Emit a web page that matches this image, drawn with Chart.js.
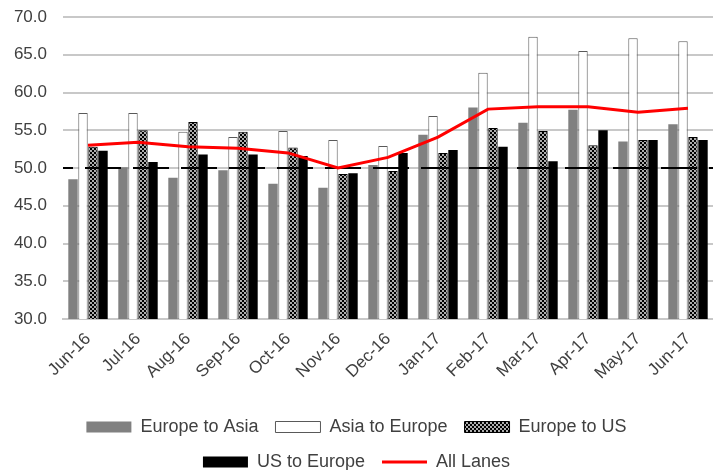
<!DOCTYPE html>
<html>
<head>
<meta charset="utf-8">
<script src="https://cdn.jsdelivr.net/npm/chart.js@4.4.0/dist/chart.umd.min.js"></script>
<style>
  html, body { margin: 0; padding: 0; background: #fff; }
  #wrap { width: 713px; height: 470px; }
</style>
</head>
<body>
<div id="wrap"><canvas id="laneChart"></canvas></div>
<script>
// ── DATA ──
const months = ['Jun-16', 'Jul-16', 'Aug-16', 'Sep-16', 'Oct-16', 'Nov-16', 'Dec-16',
                'Jan-17', 'Feb-17', 'Mar-17', 'Apr-17', 'May-17', 'Jun-17'];
const europeToAsia = [48.5, 50.1, 48.7, 49.7, 47.9, 47.4, 50.4, 54.4, 58.0, 56.0, 57.7, 53.5, 55.8];
const asiaToEurope = [57.3, 57.3, 54.8, 54.1, 54.9, 53.7, 52.9, 56.9, 62.6, 67.4, 65.5, 67.2, 66.8];
const europeToUS   = [52.8, 55.0, 56.1, 54.8, 52.7, 49.2, 49.6, 52.0, 55.3, 54.9, 53.0, 53.7, 54.1];
const usToEurope   = [52.3, 50.8, 51.8, 51.8, 51.6, 49.3, 52.0, 52.4, 52.8, 50.9, 55.0, 53.7, 53.7];
const allLanes     = [53.0, 53.4, 52.8, 52.6, 52.0, 50.0, 51.4, 54.1, 57.8, 58.1, 58.1, 57.4, 57.9];
const threshold = 50;
const yTicks = { min: 30, max: 70, step: 5 };

// ── dotted fill for Europe to US ──
function makeDots() {
  const c = document.createElement('canvas');
  c.width = 4; c.height = 4;
  const g = c.getContext('2d');
  g.fillStyle = '#000';
  g.fillRect(0, 0, 4, 4);
  g.fillStyle = '#fff';
  g.beginPath(); g.arc(1, 1, 0.9, 0, Math.PI * 2); g.fill();
  g.beginPath(); g.arc(3, 3, 0.9, 0, Math.PI * 2); g.fill();
  return g.createPattern(c, 'repeat');
}
const dots = makeDots();

// dashed 50 line + legend line marker
const extras = {
  id: 'extras',
  afterDatasetDraw(chart, args) {
    if (args.index !== 0) return;
    const { ctx, chartArea } = chart;
    const y = chart.scales.y.getPixelForValue(threshold);
    ctx.save();
    ctx.strokeStyle = '#000';
    ctx.lineWidth = 2;
    ctx.setLineDash([36, 12]);
    ctx.lineDashOffset = -22;
    ctx.beginPath();
    ctx.moveTo(chartArea.left, y);
    ctx.lineTo(chartArea.right, y);
    ctx.stroke();
    ctx.restore();
  },
  afterDraw(chart) {
    const lg = chart.legend;
    const box = lg.legendHitBoxes[4];
    if (!box) return;
    const ctx = chart.ctx;
    const bw = lg.options.labels.boxWidth;
    const y = box.top + box.height / 2;
    ctx.save();
    ctx.strokeStyle = '#ff0000';
    ctx.lineWidth = 3;
    ctx.beginPath();
    ctx.moveTo(box.left, y);
    ctx.lineTo(box.left + bw, y);
    ctx.stroke();
    ctx.restore();
  }
};

const font = { family: 'Liberation Sans, Arial, sans-serif', size: 18 };

new Chart(document.getElementById('laneChart'), {
  type: 'bar',
  data: {
    labels: months,
    datasets: [
      { label: 'Europe to Asia', data: europeToAsia, backgroundColor: '#808080', borderWidth: 0, order: 1 },
      { label: 'Asia to Europe', data: asiaToEurope, backgroundColor: '#ffffff', borderColor: '#595959', borderWidth: 1, order: 1 },
      { label: 'Europe to US', data: europeToUS, backgroundColor: dots, borderColor: '#000', borderWidth: 1, order: 1 },
      { label: 'US to Europe', data: usToEurope, backgroundColor: '#000000', borderWidth: 0, order: 1 },
      {
        label: 'All Lanes', data: allLanes, type: 'line',
        borderColor: '#ff0000', backgroundColor: 'rgba(0,0,0,0)',
        borderWidth: 3, pointRadius: 0, tension: 0, order: 0
      }
    ]
  },
  options: {
    responsive: true,
    maintainAspectRatio: false,
    animation: false,
    datasets: { bar: { categoryPercentage: 0.8, barPercentage: 0.94 } },
    layout: { padding: { top: 17, left: 0, right: 0, bottom: -11 } },
    scales: {
      x: {
        grid: { display: false },
        border: { color: '#c8c8c8', width: 2 },
        ticks: { color: '#404040', font: { ...font, size: 17 }, minRotation: 45, maxRotation: 45, padding: 2 },
        afterFit: s => { s.height = 82; }
      },
      y: {
        min: yTicks.min, max: yTicks.max,
        grid: { color: '#c8c8c8', lineWidth: 2, drawTicks: false },
        border: { display: false },
        ticks: {
          stepSize: yTicks.step, color: '#404040', font: { ...font, size: 17 }, padding: 16,
          callback: v => v.toFixed(1)
        },
        afterFit: s => { s.width = 63; s.paddingTop = 0; s.paddingBottom = 0; }
      }
    },
    plugins: {
      tooltip: { enabled: false },
      legend: {
        position: 'bottom',
        labels: {
          color: '#404040', font: font, boxWidth: 45, boxHeight: 11, padding: 17,
          sort: (a, b) => a.datasetIndex - b.datasetIndex,
          generateLabels(chart) {
            const items = Chart.defaults.plugins.legend.labels.generateLabels(chart);
            items.forEach(it => {
              if (it.datasetIndex === 4) { it.fillStyle = 'rgba(0,0,0,0)'; it.strokeStyle = 'rgba(0,0,0,0)'; it.lineWidth = 0; }
            });
            return items;
          }
        }
      }
    }
  },
  plugins: [extras]
});
</script>
</body>
</html>
